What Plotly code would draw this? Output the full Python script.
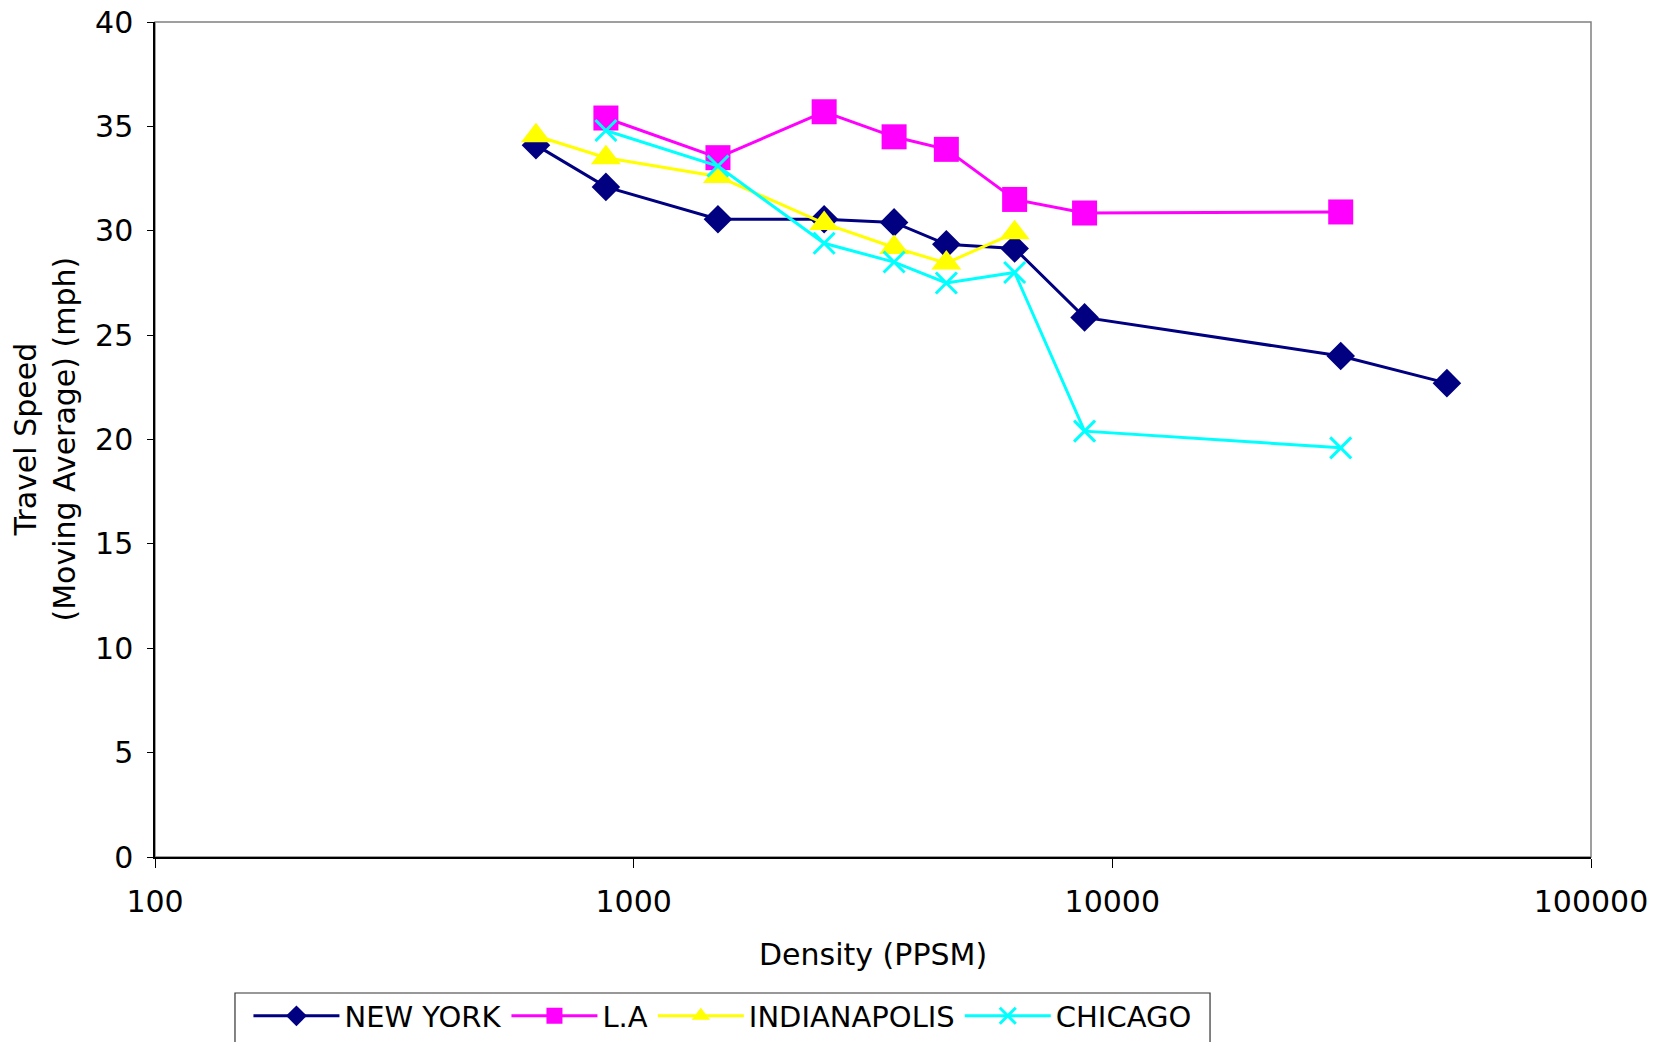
import plotly.graph_objects as go

# Data
density_ny = [625, 875, 1500, 2500, 3500, 4500, 6250, 8750, 30000, 50000]
speed_ny = [34.1, 32.1, 30.55, 30.55, 30.4, 29.35, 29.15, 25.85, 24.0, 22.7]

density_la = [875, 1500, 2500, 3500, 4500, 6250, 8750, 30000]
speed_la = [35.4, 33.5, 35.7, 34.5, 33.9, 31.5, 30.85, 30.9]

density_ind = [625, 875, 1500, 2500, 3500, 4500, 6250]
speed_ind = [34.55, 33.5, 32.6, 30.35, 29.2, 28.45, 29.9]

density_chi = [875, 1500, 2500, 3500, 4500, 6250, 8750, 30000]
speed_chi = [34.8, 33.1, 29.4, 28.5, 27.5, 28.0, 20.4, 19.6]

x_tickvals = [100, 1000, 10000, 100000]
x_ticktext = ["100", "1000", "10000", "100000"]
y_tickvals = [0, 5, 10, 15, 20, 25, 30, 35, 40]

FONT = "DejaVu Sans"
FS = 30
FS_LEG = 29

fig = go.Figure()
fig.add_trace(go.Scatter(x=density_ny, y=speed_ny, name="NEW YORK", mode="lines+markers",
                         line=dict(color="#000080", width=3),
                         marker=dict(symbol="diamond", size=22, color="#000080")))
fig.add_trace(go.Scatter(x=density_la, y=speed_la, name="L.A", mode="lines+markers",
                         line=dict(color="#FF00FF", width=3),
                         marker=dict(symbol="square", size=25, color="#FF00FF")))
fig.add_trace(go.Scatter(x=density_ind, y=speed_ind, name="INDIANAPOLIS", mode="lines+markers",
                         line=dict(color="#FFFF00", width=3),
                         marker=dict(symbol="triangle-up", size=26, color="#FFFF00")))
fig.add_trace(go.Scatter(x=density_chi, y=speed_chi, name="CHICAGO", mode="lines+markers",
                         line=dict(color="#00FFFF", width=3),
                         marker=dict(symbol="x-thin-open", size=21, color="#00FFFF",
                                     line=dict(color="#00FFFF", width=3))))

fig.update_layout(
    width=1665, height=1042,
    margin=dict(l=155, r=74, t=22, b=185, autoexpand=False),
    paper_bgcolor="white", plot_bgcolor="white",
    font=dict(family=FONT, size=FS, color="black"),
    showlegend=True,
    legend=dict(orientation="h", xref="container", yref="container",
                x=0.4339, y=0.025, xanchor="center", yanchor="middle",
                bgcolor="rgba(0,0,0,0)", borderwidth=0,
                font=dict(family=FONT, size=FS_LEG, color="black"),
                itemwidth=86, tracegroupgap=0),
    shapes=[
        dict(type="rect", xref="paper", yref="paper", x0=0, x1=1, y0=0, y1=1,
             line=dict(color="#808080", width=1.5), layer="below"),
        dict(type="rect", xref="paper", yref="paper", x0=0.0557, x1=0.7347,
             y0=-0.1629, y1=-0.32, line=dict(color="#333333", width=1.2),
             fillcolor="rgba(0,0,0,0)", layer="below"),
    ],
    annotations=[
        dict(text="Density (PPSM)", xref="paper", yref="paper", x=0.5, y=0,
             yshift=-97, xanchor="center", yanchor="middle", showarrow=False,
             font=dict(family=FONT, size=FS, color="black")),
        dict(text="Travel Speed<br>(Moving Average) (mph)", xref="paper", yref="paper",
             x=0, xshift=-111, y=0.5, xanchor="center", yanchor="middle", textangle=-90,
             showarrow=False, font=dict(family=FONT, size=FS, color="black")),
    ],
)

fig.update_xaxes(type="log", range=[2, 5], tickvals=x_tickvals, ticktext=x_ticktext,
                 showgrid=False, zeroline=False, showline=True, linecolor="black", linewidth=1.5,
                 ticks="outside", ticklen=9, tickcolor="black", ticklabelstandoff=8,
                 ticklabeloverflow="allow", automargin=False)
fig.update_yaxes(range=[0, 40], tickvals=y_tickvals, showgrid=False, zeroline=False,
                 showline=True, linecolor="black", linewidth=1.5,
                 ticks="outside", ticklen=6, tickcolor="black", ticklabelstandoff=8,
                 ticklabeloverflow="allow", automargin=False)

fig.write_html("out.html", config={"displayModeBar": False},
               post_script="document.body.style.margin='0';")
